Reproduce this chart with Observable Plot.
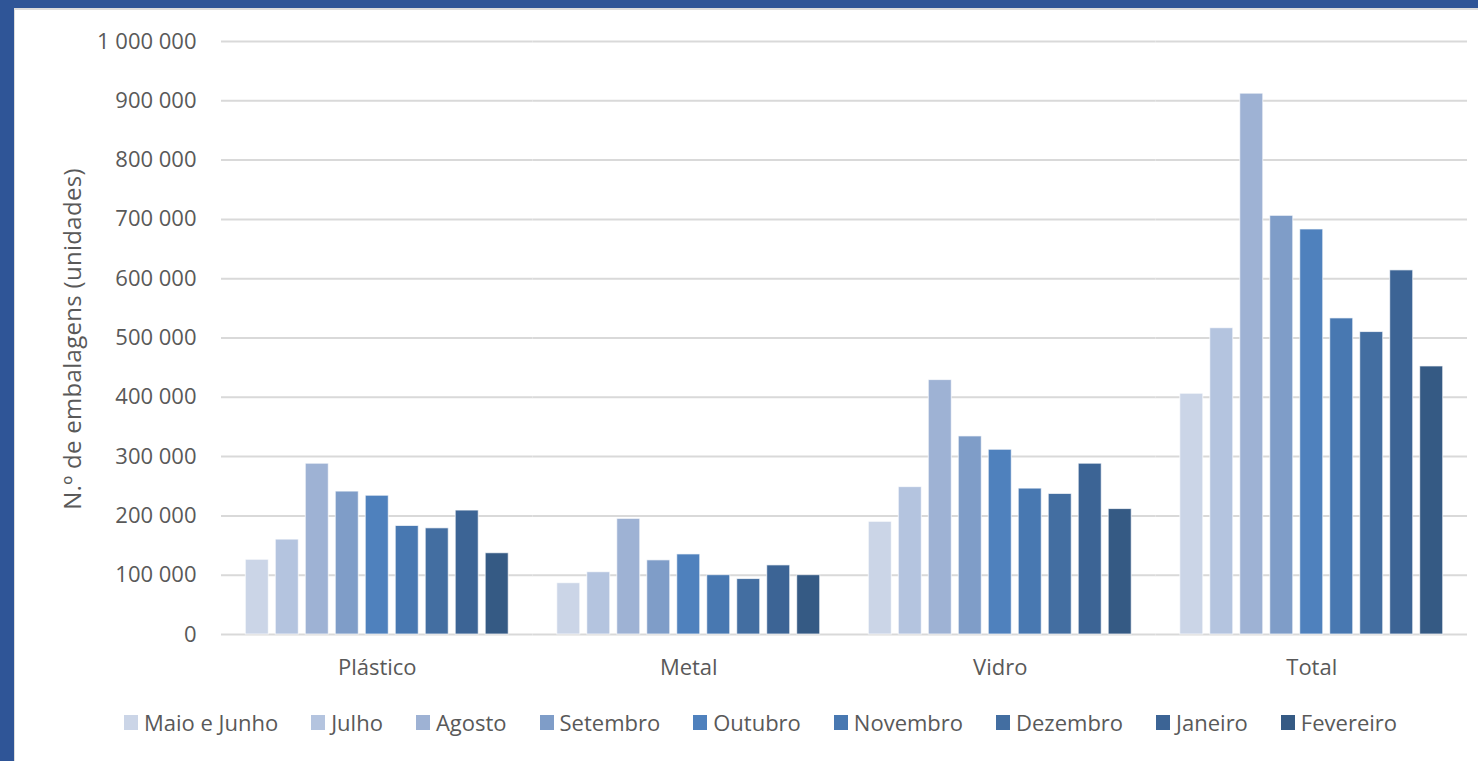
<!DOCTYPE html>
<html>
<head>
<meta charset="utf-8">
<script src="https://cdn.jsdelivr.net/npm/d3@7"></script>
<script src="https://cdn.jsdelivr.net/npm/@observablehq/plot@0.6"></script>
<style>
  html, body { margin: 0; padding: 0; }
  body { width: 1478px; height: 761px; position: relative; overflow: hidden; background: #fff; font-family: "Open Sans", sans-serif; }
  #frameTop { position: absolute; left: 0; top: 0; width: 1478px; height: 8px; background: #2F5597; }
  #frameLeft { position: absolute; left: 0; top: 0; width: 14px; height: 761px; background: #2F5597; }
  #innerEdge { position: absolute; left: 14px; top: 8px; width: 1464px; height: 753px; border-top: 2px solid #DCDCDC; border-left: 1px solid #DCDCDC; box-sizing: border-box; }
  #chart { position: absolute; left: 0; top: 0; }
  #ylabel { position: absolute; left: 71px; top: 339px; transform: translate(-50%, -50%) rotate(-90deg); white-space: nowrap; font-size: 24px; letter-spacing: 0.3px; color: #595959; }
  #legend { position: absolute; left: 124px; top: 707px; display: flex; align-items: center; font-size: 22px; line-height: 30px; color: #595959; white-space: nowrap; }
  .item { display: flex; align-items: center; margin-right: 33px; }
  .sw { width: 14px; height: 15px; margin-right: 6px; }
</style>
</head>
<body>
<div id="frameTop"></div>
<div id="frameLeft"></div>
<div id="innerEdge"></div>
<div id="chart"></div>
<div id="ylabel">N.º de embalagens (unidades)</div>
<div id="legend"></div>
<script>
const categories = ["Plástico", "Metal", "Vidro", "Total"];
const months = ["Maio e Junho", "Julho", "Agosto", "Setembro", "Outubro", "Novembro", "Dezembro", "Janeiro", "Fevereiro"];
const plastico = [126000, 160000, 288000, 241000, 234000, 183000, 179000, 209000, 137000];
const metal = [86500, 105000, 195000, 125000, 135000, 100000, 93500, 116500, 100000];
const vidro = [190000, 248500, 429000, 334000, 311500, 246000, 237000, 288000, 211500];
const total = [406000, 516500, 912000, 706000, 683000, 533000, 510000, 614000, 452000];
const yTicks = [0, 100000, 200000, 300000, 400000, 500000, 600000, 700000, 800000, 900000, 1000000];
const colors = ["#CBD5E7", "#B4C4DF", "#9EB2D4", "#7F9DC8", "#4F81BD", "#4878B1", "#436EA1", "#3C6495", "#355A84"];

const series = [plastico, metal, vidro, total];
const data = categories.flatMap((c, i) => months.map((m, j) => ({category: c, month: m, value: series[i][j]})));

const fmt = d => d3.format(",")(d).replace(/,/g, " ");

const chart = Plot.plot({
  width: 1478,
  height: 690,
  marginLeft: 221,
  marginRight: 11,
  marginTop: 41,
  marginBottom: 56,
  style: {fontFamily: "'Open Sans', sans-serif", fontSize: "22px", color: "#595959", background: "transparent", overflow: "visible"},
  fx: {domain: categories, padding: 0, round: false, label: null, axis: "bottom", tickSize: 0, tickPadding: 25},
  x: {domain: months, paddingInner: 0.233, paddingOuter: 0.81, round: false, axis: null},
  y: {domain: [0, 1000000], ticks: yTicks, tickFormat: fmt, label: null, tickSize: 0, tickPadding: 25},
  color: {domain: months, range: colors},
  marks: [
    Plot.gridY(yTicks, {stroke: "#D9D9D9", strokeOpacity: 1, strokeWidth: 2}),
    Plot.barY(data, {fx: "category", x: "month", y: "value", fill: "month", stroke: "#ffffff", strokeOpacity: 0.7, strokeWidth: 1})
  ]
});
document.getElementById("chart").appendChild(chart);

const legend = document.getElementById("legend");
months.forEach((m, i) => {
  const item = document.createElement("div");
  item.className = "item";
  const sw = document.createElement("div");
  sw.className = "sw";
  sw.style.background = colors[i];
  const t = document.createElement("span");
  t.textContent = m;
  item.appendChild(sw);
  item.appendChild(t);
  legend.appendChild(item);
});
</script>
</body>
</html>
